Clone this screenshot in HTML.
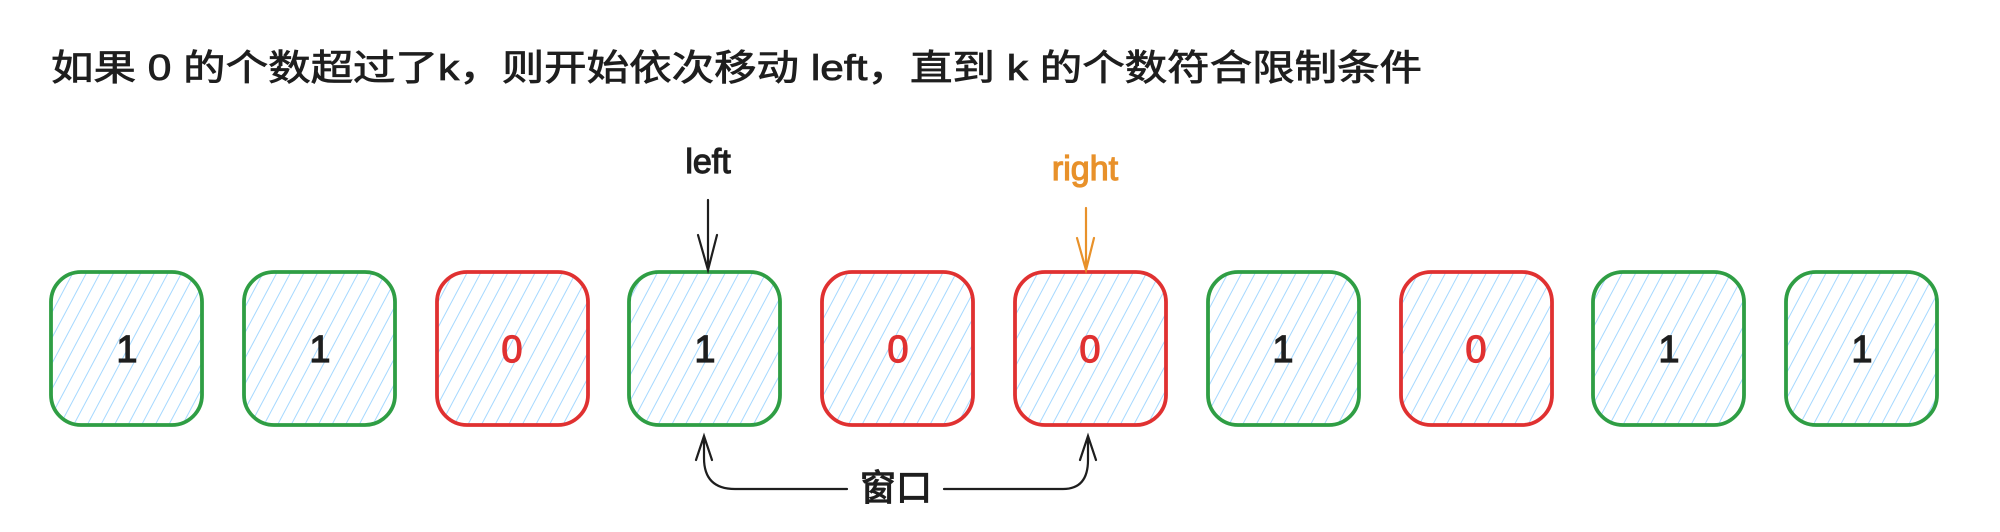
<!DOCTYPE html>
<html><head><meta charset="utf-8"><style>
html,body{margin:0;padding:0;background:#fff;}
svg{display:block}
</style></head><body>
<svg width="2000" height="532" viewBox="0 0 2000 532" xmlns="http://www.w3.org/2000/svg">
<defs>
<pattern id="h" patternUnits="userSpaceOnUse" width="12" height="12" patternTransform="rotate(28)">
<line x1="0" y1="0" x2="0" y2="12" stroke="#a5d8ff" stroke-width="2"/>
</pattern>
</defs>
<text x="51" y="80" font-family="'Liberation Sans','Noto Sans CJK SC',sans-serif" font-size="36" fill="#1e1e1e" stroke="#1e1e1e" stroke-width="0.8" textLength="1371" lengthAdjust="spacingAndGlyphs">如果 0 的个数超过了k，则开始依次移动 left，直到 k 的个数符合限制条件</text>
<g font-family="'Liberation Sans','Noto Sans CJK SC',sans-serif" font-size="38" text-anchor="middle">
<g stroke-width="3.8" fill="url(#h)">
<rect x="51" y="272" width="151" height="153" rx="30" stroke="#2f9e44"/>
<rect x="244" y="272" width="151" height="153" rx="30" stroke="#2f9e44"/>
<rect x="437" y="272" width="151" height="153" rx="30" stroke="#e03131"/>
<rect x="629" y="272" width="151" height="153" rx="30" stroke="#2f9e44"/>
<rect x="822" y="272" width="151" height="153" rx="30" stroke="#e03131"/>
<rect x="1015" y="272" width="151" height="153" rx="30" stroke="#e03131"/>
<rect x="1208" y="272" width="151" height="153" rx="30" stroke="#2f9e44"/>
<rect x="1401" y="272" width="151" height="153" rx="30" stroke="#e03131"/>
<rect x="1593" y="272" width="151" height="153" rx="30" stroke="#2f9e44"/>
<rect x="1786" y="272" width="151" height="153" rx="30" stroke="#2f9e44"/>
</g>
<g stroke-width="1.2">
<text x="127" y="362" fill="#1e1e1e" stroke="#1e1e1e">1</text>
<text x="320" y="362" fill="#1e1e1e" stroke="#1e1e1e">1</text>
<text x="512" y="362" fill="#e03131" stroke="#e03131">0</text>
<text x="705" y="362" fill="#1e1e1e" stroke="#1e1e1e">1</text>
<text x="898" y="362" fill="#e03131" stroke="#e03131">0</text>
<text x="1090" y="362" fill="#e03131" stroke="#e03131">0</text>
<text x="1283" y="362" fill="#1e1e1e" stroke="#1e1e1e">1</text>
<text x="1476" y="362" fill="#e03131" stroke="#e03131">0</text>
<text x="1669" y="362" fill="#1e1e1e" stroke="#1e1e1e">1</text>
<text x="1862" y="362" fill="#1e1e1e" stroke="#1e1e1e">1</text>
<text x="708" y="173" font-size="34" fill="#1e1e1e" stroke="#1e1e1e">left</text>
<text x="1085" y="180" font-size="34" fill="#e8912a" stroke="#e8912a">right</text>
<text x="896" y="500" font-size="36" fill="#1e1e1e" stroke="#1e1e1e">窗口</text>
</g>
</g>
<g fill="none" stroke-width="2.2" stroke-linecap="round">
<path d="M708 200 V270 M698 235 L708 270 L717 235" stroke="#1e1e1e"/>
<path d="M1086 208 V270 M1077 238 L1086 270 L1094 238" stroke="#e8912a"/>
<path d="M847 489 H735 Q704 489 704 458 V436 M696 460 L704 436 L712 460" stroke="#1e1e1e"/>
<path d="M944 489 H1063 Q1088 489 1088 460 V436 M1080 460 L1088 436 L1096 460" stroke="#1e1e1e"/>
</g>
</svg>
</body></html>
